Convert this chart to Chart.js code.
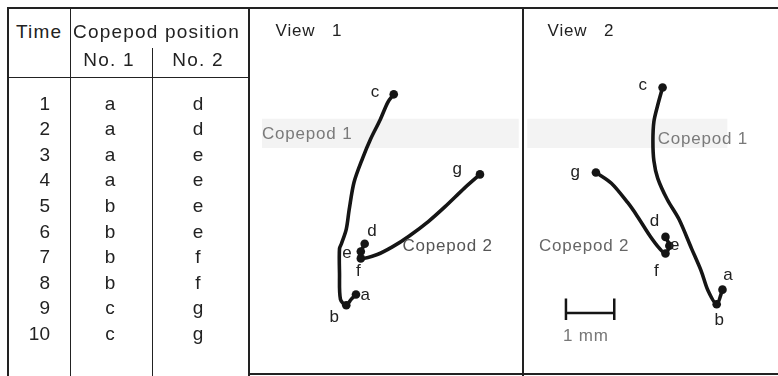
<!DOCTYPE html>
<html>
<head>
<meta charset="utf-8">
<script src="https://cdn.jsdelivr.net/npm/chart.js@4.4.0/dist/chart.umd.min.js"></script>
<style>
  body { margin: 0; background: #fff; width: 778px; height: 376px; overflow: hidden; position: relative;
         font-family: "Liberation Sans", Arial, sans-serif; color: #222; }
  .ln { position: absolute; background: #222; }
  .t { position: absolute; font-size: 19px; height: 22px; line-height: 22px; white-space: nowrap; }
  .hd { letter-spacing: 1.2px; }
  canvas { position: absolute; }
</style>
</head>
<body>
<canvas id="view1" width="274" height="366" style="left:249px;top:8px"></canvas>
<canvas id="view2" width="255" height="366" style="left:523px;top:8px"></canvas>
<script>
// table
const times = [1, 2, 3, 4, 5, 6, 7, 8, 9, 10];
const copepod1Pos = ['a', 'a', 'a', 'a', 'b', 'b', 'b', 'b', 'c', 'c'];
const copepod2Pos = ['d', 'd', 'e', 'e', 'e', 'e', 'f', 'f', 'g', 'g'];

// positions a..g, in mm from the lower left corner of each view
const posNames = ['a', 'b', 'c', 'd', 'e', 'f', 'g'];
const v1PosX = [2.12, 1.92, 2.90, 2.30, 2.22, 2.22, 4.68];
const v1PosY = [1.54, 1.32, 5.64, 2.58, 2.42, 2.28, 4.00];
const v1NameX = [2.32, 1.68, 2.52, 2.46, 1.94, 2.18, 4.22];
const v1NameY = [1.52, 1.08, 5.68, 2.84, 2.38, 2.02, 4.10];

const v2PosX = [4.04, 3.92, 2.80, 2.86, 2.94, 2.86, 1.42];
const v2PosY = [1.64, 1.34, 5.78, 2.72, 2.54, 2.38, 4.04];
const v2NameX = [4.16, 3.98, 2.40, 2.64, 3.06, 2.68, 1.00];
const v2NameY = [1.94, 1.02, 5.82, 3.04, 2.54, 2.02, 4.04];

// swimming tracks, copepod 1 runs a -> b -> c, copepod 2 runs d -> e -> f -> g
const v1Track1X = [2.12, 2.02, 1.92, 1.80, 1.78, 1.78, 1.82, 1.92, 1.98, 2.08, 2.26, 2.42, 2.62, 2.78, 2.90];
const v1Track1Y = [1.54, 1.44, 1.32, 1.44, 1.98, 2.48, 2.58, 2.88, 3.28, 3.84, 4.34, 4.72, 5.12, 5.48, 5.64];
const v1Track2X = [2.30, 2.26, 2.22, 2.22, 2.56, 2.88, 3.22, 3.62, 3.96, 4.36, 4.68];
const v1Track2Y = [2.58, 2.50, 2.42, 2.28, 2.36, 2.52, 2.74, 3.04, 3.34, 3.72, 4.00];

const v2Track1X = [4.04, 3.92, 3.74, 3.60, 3.40, 3.14, 2.90, 2.70, 2.62, 2.60, 2.62, 2.70, 2.80];
const v2Track1Y = [1.64, 1.34, 1.62, 2.02, 2.48, 3.08, 3.48, 3.92, 4.28, 4.68, 5.08, 5.42, 5.78];
const v2Track2X = [2.86, 2.94, 2.86, 2.74, 2.54, 2.28, 2.08, 1.74, 1.42];
const v2Track2Y = [2.72, 2.54, 2.38, 2.48, 2.74, 3.14, 3.42, 3.82, 4.04];

// 1 mm scale bar
const scaleBarX = [0.80, 0.80, 0.80, 1.80, 1.80, 1.80];
const scaleBarY = [1.46, 1.02, 1.16, 1.16, 1.46, 1.02];

// texts written in the views
const v1Notes = ['View   1', 'Copepod 1', 'Copepod 2'];
const v1NoteX = [0.46, 0.18, 3.08];
const v1NoteY = [6.94, 4.82, 2.52];
const v2Notes = ['View   2', 'Copepod 1', 'Copepod 2', '1 mm'];
const v2NoteX = [0.42, 2.70, 0.24, 0.74];
const v2NoteY = [6.94, 4.72, 2.52, 0.68];

// pale strip behind "Copepod 1"
const v1Band = [0.18, 5.48, 4.54, 5.14];
const v2Band = [0.00, 4.14, 4.54, 5.14];

const ink = '#151515';

// ---- table drawn with plain elements ----
function line(x, y, w, h) {
  const d = document.createElement('div');
  d.className = 'ln';
  Object.assign(d.style, { left: x + 'px', top: y + 'px', width: w + 'px', height: h + 'px' });
  document.body.appendChild(d);
}
function put(text, x, cy, align, cls) {
  const d = document.createElement('div');
  d.className = 't' + (cls ? ' ' + cls : '');
  d.textContent = text;
  d.style.top = (cy - 11) + 'px';
  if (align === 'right') d.style.right = (778 - x) + 'px';
  else d.style.left = x + 'px';
  if (align === 'center') d.style.transform = 'translateX(-50%)';
  document.body.appendChild(d);
}

line(8, 7, 770, 2);
line(7, 7, 2, 369);
line(70, 8, 1, 368);
line(152, 48, 1, 328);
line(8, 77, 241, 1);
line(248, 7, 2, 369);
line(522, 7, 2, 369);
line(249, 373, 529, 2);

put('Time', 16, 32, 'left', 'hd');
put('Copepod position', 73, 32, 'left', 'hd');
put('No. 1', 109, 59.5, 'center', 'hd');
put('No. 2', 198, 59.5, 'center', 'hd');
times.forEach((t, i) => {
  const cy = 103.5 + i * 25.6;
  put(String(t), 50, cy, 'right');
  put(copepod1Pos[i], 110, cy, 'center');
  put(copepod2Pos[i], 198, cy, 'center');
});

// ---- the two views ----
const toPts = (xs, ys) => xs.map((x, i) => ({ x: x, y: ys[i] }));

function drawView(id, xMax, v) {
  const noteColors = v.noteColors;
  const extras = {
    id: 'extras',
    beforeDatasetsDraw(chart) {
      const { ctx, scales: { x, y } } = chart;
      const b = v.band;
      ctx.save();
      ctx.fillStyle = '#f3f3f3';
      ctx.fillRect(x.getPixelForValue(b[0]), y.getPixelForValue(b[3]),
        x.getPixelForValue(b[1]) - x.getPixelForValue(b[0]),
        y.getPixelForValue(b[2]) - y.getPixelForValue(b[3]));
      ctx.restore();
    },
    afterDatasetsDraw(chart) {
      const { ctx, scales: { x, y } } = chart;
      ctx.save();
      ctx.font = '17px "Liberation Sans", Arial, sans-serif';
      ctx.letterSpacing = '0.8px';
      ctx.textBaseline = 'middle';
      ctx.textAlign = 'left';
      v.notes.forEach((n, i) => {
        ctx.fillStyle = noteColors[i];
        ctx.fillText(n, x.getPixelForValue(v.noteX[i]), y.getPixelForValue(v.noteY[i]));
      });
      ctx.fillStyle = '#222';
      ctx.textAlign = 'center';
      posNames.forEach((n, i) => {
        ctx.fillText(n, x.getPixelForValue(v.nameX[i]), y.getPixelForValue(v.nameY[i]));
      });
      ctx.restore();
    }
  };

  const track = (data) => ({
    data: data, showLine: true, borderColor: ink, borderWidth: 3.6,
    pointRadius: 0, tension: 0.3, borderCapStyle: 'round', borderJoinStyle: 'round'
  });
  const datasets = [
    track(toPts(v.t1x, v.t1y)),
    track(toPts(v.t2x, v.t2y)),
    { data: toPts(v.posX, v.posY), pointRadius: 4.3, pointBackgroundColor: ink, pointBorderWidth: 0, showLine: false }
  ];
  if (v.bar) {
    datasets.push({ data: toPts(scaleBarX, scaleBarY), showLine: true, borderColor: ink,
      borderWidth: 2.5, pointRadius: 0, tension: 0 });
  }

  new Chart(document.getElementById(id), {
    type: 'scatter',
    data: { datasets: datasets },
    options: {
      responsive: false,
      animation: false,
      layout: { padding: 0 },
      plugins: { legend: { display: false }, tooltip: { enabled: false } },
      scales: {
        x: { type: 'linear', min: 0, max: xMax, display: false },
        y: { type: 'linear', min: 0, max: 7.32, display: false }
      }
    },
    plugins: [extras]
  });
}

drawView('view1', 5.48, {
  t1x: v1Track1X, t1y: v1Track1Y, t2x: v1Track2X, t2y: v1Track2Y,
  posX: v1PosX, posY: v1PosY, nameX: v1NameX, nameY: v1NameY,
  notes: v1Notes, noteX: v1NoteX, noteY: v1NoteY, band: v1Band,
  noteColors: ['#222', '#7a7a7a', '#555'], bar: false
});
drawView('view2', 5.10, {
  t1x: v2Track1X, t1y: v2Track1Y, t2x: v2Track2X, t2y: v2Track2Y,
  posX: v2PosX, posY: v2PosY, nameX: v2NameX, nameY: v2NameY,
  notes: v2Notes, noteX: v2NoteX, noteY: v2NoteY, band: v2Band,
  noteColors: ['#222', '#7a7a7a', '#666', '#777'], bar: true
});
</script>
</body>
</html>
